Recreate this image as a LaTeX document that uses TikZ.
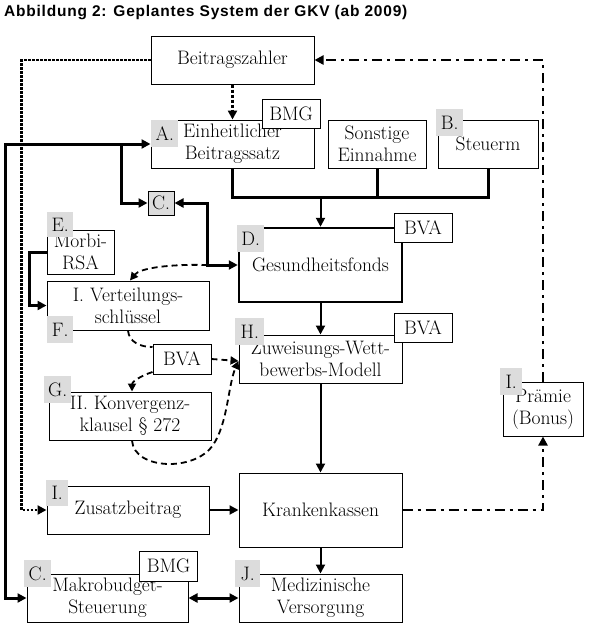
\documentclass[tikz,border=0pt]{standalone}
\usepackage{fontspec}
\newfontfamily\titlefont{Liberation Sans}[LetterSpace=5]
\usetikzlibrary{arrows.meta}
\definecolor{tagg}{RGB}{220,220,220}
\begin{document}
\begin{tikzpicture}[x=1pt,y=-1pt,
  every node/.style={font=\fontsize{19.5}{22}\selectfont\addfontfeature{FakeBold=2.5}, inner sep=0pt},
  box/.style={draw, line width=1pt, fill=white, align=center},
  tagbox/.style={fill=tagg, minimum width=27pt, minimum height=27pt, anchor=north west},
  lab/.style={draw, line width=1pt, fill=white, minimum width=58pt, minimum height=29pt},
  heavy/.style={line width=3pt},
  med/.style={line width=2pt},
  tip/.style={-{Triangle[length=9pt,width=9pt]}},
  both/.style={{Triangle[length=9pt,width=9pt]}-{Triangle[length=9pt,width=9pt]}},
  stip/.style={-{Triangle[length=8pt,width=8pt]}},
  dashline/.style={line width=1.8pt, dash pattern=on 6pt off 4pt},
  dotline/.style={line width=2.5pt, dash pattern=on 2.5pt off 1.5pt},
  bigdot/.style={line width=3.5pt, dash pattern=on 3pt off 2pt},
  dashdot/.style={line width=2.7pt, dash pattern=on 10pt off 5pt on 3pt off 5pt}
]
\useasboundingbox (0,0) rectangle (595,633);
\fill[white] (0,0) rectangle (595,633);

\node[anchor=base west, font=\titlefont\bfseries\fontsize{15.5}{18}\selectfont] (title) at (4,16) {Abbildung 2: Geplantes System der GKV (ab 2009)};

% main boxes
\node[box, minimum width=163pt, minimum height=48pt] (bz) at (232.5,60) {Beitragszahler};
\node[box, minimum width=163pt, minimum height=48pt] (A) at (232.5,144) {Einheitlicher\\Beitragssatz};
\node[box, minimum width=98pt, minimum height=48pt] (son) at (377,144) {Sonstige\\Einnahme};
\node[box, minimum width=100pt, minimum height=48pt] (st) at (488,144) {Steuerm};
\node[box, line width=2.5pt, minimum width=163pt, minimum height=74pt] (D) at (320.5,265) {Gesundheitsfonds};
\node[box, minimum width=163pt, minimum height=48pt] (H) at (320.5,359) {Zuweisungs-Wett-\\bewerbs-Modell};
\node[box, minimum width=163pt, minimum height=74pt] (KK) at (320.5,510) {Krankenkassen};
\node[box, minimum width=163pt, minimum height=48pt] (J) at (320.5,598) {Medizinische\\Versorgung};
\node[box, minimum width=67pt, minimum height=44pt] (morbi) at (80.5,252) {Morbi-\\RSA};
\node[box, minimum width=162pt, minimum height=49pt] (F) at (128,305.5) {I. Verteilungs-\\schlüssel};
\node[box, minimum width=162pt, minimum height=48pt] (G) at (130,416) {II. Konvergenz-\\klausel § 272};
\node[box, minimum width=162pt, minimum height=48pt] (zus) at (128,510) {Zusatzbeitrag};
\node[box, minimum width=161pt, minimum height=48pt] (makro) at (107.5,598) {Makrobudget-\\Steuerung};
\node[box, minimum width=80pt, minimum height=54pt] (pr) at (543,409) {Prämie\\(Bonus)};
\node[box, fill=tagg, minimum width=26pt, minimum height=24pt] (Cn) at (161,203) {C.};

% solid connectors
\draw[heavy] (A.south) -- ++(0,29) coordinate (busL) -| (st.south);
\draw[heavy] (son.south) -- (son.south |- busL);
\draw[med,tip] (D.north |- busL) -- (D.north);
\draw[med,tip] (D.south) -- (H.north);
\draw[med,tip] (H.south) -- (KK.north);
\draw[med,tip] (KK.south) -- (J.north);
\draw[med,tip] (zus.east) -- (KK.west);
\draw[heavy,both] (makro.east) -- (J.west);
\draw[heavy,both] (makro.west) -- ++(-21,0) |- (A.west);
\coordinate (brA) at (121,144);
\draw[heavy,tip] (brA) |- (Cn.west);
\draw[heavy,both] (Cn.east) -- ++(33,0) |- coordinate[pos=0.5] (jn) (D.west);
\draw[heavy,tip] (morbi.west) -- ++(-17,0) |- (F.west);

% dotted
\draw[dotline,tip] (bz.west) -- ++(-129,0) |- (zus.west);
\draw[bigdot,tip] (bz.south) -- (A.north);

% dash-dot
\draw[dashdot,tip] (KK.east) -| (pr.south);
\draw[dashdot,tip] (pr.north) |- (bz.east);

% labels
\node[lab] (bmg1) at (291,113.5) {BMG};
\node[lab] (bva1) at (423,228) {BVA};
\node[lab] (bva2) at (423,327.5) {BVA};
\node[lab, minimum height=30pt] (bva3) at (182,359) {BVA};
\node[lab, minimum height=30pt] (bmg2) at (168.5,566) {BMG};

% dashed curves
\draw[dashline,stip] (jn) .. controls (170,264) and (140,268) .. ([xshift=2pt]F.north);
\draw[dashline] (F.south) .. controls (129,342) and (140,347) .. ([yshift=12pt]bva3.west);
\draw[dashline,stip] ([yshift=-13pt]bva3.west) .. controls (140,376) and (132,382) .. ([xshift=2pt]G.north);
\draw[dashline,stip] (bva3.east) -- ([yshift=-2pt]H.west);
\draw[dashline,stip] ([xshift=2pt]G.south) .. controls (134,470) and (195,472) .. (213,445) .. controls (228,423) and (228,385) .. ([yshift=-2pt]H.west);

% letter tags
\node[tagbox] (tA) at (151,120) {A.};
\node[tagbox] (tB) at (436,109) {B.};
\node[tagbox] (tD) at (237,225) {D.};
\node[tagbox, minimum width=26pt, minimum height=25pt] (tE) at (47,212) {E.};
\node[tagbox, minimum width=26pt] (tF) at (47,316) {F.};
\node[tagbox] (tG) at (44,376) {G.};
\node[tagbox, minimum width=29pt] (tH) at (235,318) {H.};
\node[tagbox, minimum width=22pt] (tI1) at (500,368) {I.};
\node[tagbox, minimum width=22pt, minimum height=26pt] (tI2) at (46,480) {I.};
\node[tagbox] (tC2) at (24,560) {C.};
\node[tagbox, minimum width=25pt] (tJ) at (235,560) {J.};
\end{tikzpicture}
\end{document}
